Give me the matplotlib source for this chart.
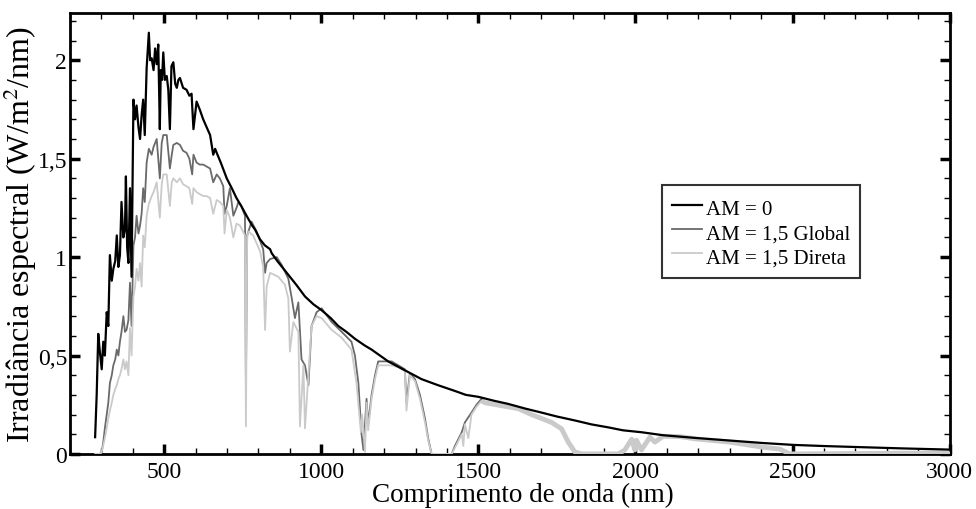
import numpy as np
import matplotlib
matplotlib.use("Agg")
import matplotlib.pyplot as plt
from matplotlib.ticker import MultipleLocator, FixedLocator

plt.rcParams['font.family'] = ['Liberation Serif', 'DejaVu Serif']
plt.rcParams['mathtext.fontset'] = 'stix'

# AM = 0 (extraterrestre)
wl_am0 = [280, 285, 290, 295, 301, 306, 311, 317, 322, 327, 333, 338, 344, 349, 354, 359, 364, 370,
          375, 378, 382, 386, 391, 396, 402, 407, 412, 418, 423, 428, 433, 438, 444, 451, 455, 460,
          466, 471, 476, 481, 486, 489, 493, 497, 502, 508, 513, 518, 523, 529, 535, 540, 545, 550,
          560, 571, 580, 587, 593, 603, 613, 624, 635, 646, 656, 662, 667, 680, 699, 715, 730, 745,
          762, 780, 789, 805, 820, 837, 842, 860, 880, 895, 920, 948, 975, 1001, 1030, 1054, 1080,
          1107, 1139, 1160, 1213, 1260, 1319, 1370, 1425, 1460, 1500, 1550, 1595, 1650, 1701, 1750,
          1807, 1860, 1913, 1960, 2020, 2088, 2200, 2300, 2400, 2500, 2600, 2725, 2850, 3000]
irr_am0 = [0.085, 0.30, 0.61, 0.52, 0.43, 0.57, 0.50, 0.72, 0.65, 1.01, 0.88, 0.94, 0.98, 1.11, 0.95,
           1.01, 1.28, 1.10, 1.14, 1.41, 1.05, 0.97, 1.35, 0.90, 1.80, 1.70, 1.77, 1.66, 1.60, 1.72,
           1.80, 1.62, 1.96, 2.14, 2.00, 2.01, 1.95, 2.06, 1.98, 2.08, 1.65, 1.95, 1.90, 2.04, 1.90,
           1.92, 1.85, 1.65, 1.97, 1.99, 1.88, 1.86, 1.90, 1.91, 1.86, 1.85, 1.82, 1.83, 1.65, 1.79,
           1.75, 1.70, 1.66, 1.62, 1.52, 1.55, 1.53, 1.48, 1.40, 1.35, 1.30, 1.26, 1.21, 1.16, 1.14,
           1.09, 1.06, 1.04, 1.02, 0.98, 0.94, 0.91, 0.86, 0.80, 0.76, 0.73, 0.69, 0.65, 0.62, 0.585,
           0.55, 0.53, 0.47, 0.43, 0.38, 0.35, 0.32, 0.30, 0.29, 0.27, 0.254, 0.23, 0.21, 0.19, 0.17,
           0.15, 0.135, 0.12, 0.11, 0.095, 0.08, 0.068, 0.056, 0.046, 0.040, 0.034, 0.028, 0.022]

# AM = 1,5 Global
wl_glob = [280, 295, 301, 306, 311, 317, 322, 327, 333, 338, 344, 349, 354, 359, 364, 370, 375, 380,
           386, 391, 396, 402, 407, 412, 418, 423, 428, 433, 438, 444, 451, 460, 466, 476, 486, 492,
           497, 508, 518, 524, 529, 540, 550, 560, 571, 580, 589, 593, 603, 613, 624, 635, 646, 656,
           667, 677, 688, 692, 699, 709, 720, 730, 736, 745, 757, 760, 764, 778, 794, 815, 821, 826,
           837, 858, 874, 895, 906, 916, 927, 937, 948, 959, 969, 985, 1001, 1033, 1065, 1096, 1107,
           1118, 1128, 1134, 1144, 1149, 1160, 1171, 1181, 1202, 1224, 1245, 1266, 1271, 1282, 1298,
           1314, 1330, 1340, 1351, 1415, 1425, 1447, 1457, 1478, 1494, 1510, 1521, 1574, 1627, 1669,
           1701, 1733, 1765, 1786, 1807, 1829, 1945, 1966, 1988, 1998, 2003, 2019, 2046, 2062, 2088,
           2141, 2194, 2300, 2406, 2459, 2491, 3000]
irr_glob = [0.0, 0.0, 0.01, 0.06, 0.13, 0.20, 0.26, 0.36, 0.40, 0.45, 0.48, 0.53, 0.50, 0.57, 0.62,
            0.70, 0.62, 0.63, 0.68, 0.87, 0.65, 1.06, 1.10, 1.21, 1.12, 1.16, 1.22, 1.35, 1.28, 1.48,
            1.55, 1.52, 1.56, 1.60, 1.40, 1.58, 1.62, 1.62, 1.45, 1.52, 1.57, 1.58, 1.57, 1.54, 1.53,
            1.50, 1.42, 1.52, 1.48, 1.47, 1.47, 1.46, 1.45, 1.38, 1.42, 1.40, 1.36, 1.22, 1.26, 1.35,
            1.21, 1.25, 1.28, 1.26, 1.21, 0.35, 1.11, 1.18, 1.13, 1.04, 0.92, 0.97, 0.99, 1.00, 0.96,
            0.89, 0.79, 0.69, 0.77, 0.48, 0.45, 0.35, 0.65, 0.72, 0.74, 0.67, 0.62, 0.57, 0.50, 0.36,
            0.10, 0.02, 0.28, 0.15, 0.30, 0.40, 0.47, 0.47, 0.47, 0.45, 0.43, 0.26, 0.41, 0.38, 0.30,
            0.18, 0.08, 0.0, 0.0, 0.04, 0.11, 0.16, 0.21, 0.25, 0.28, 0.26, 0.245, 0.23, 0.20, 0.18,
            0.16, 0.127, 0.06, 0.01, 0.0, 0.0, 0.02, 0.075, 0.02, 0.07, 0.02, 0.085, 0.06, 0.09, 0.088,
            0.076, 0.06, 0.034, 0.025, 0.0, 0.005]

# AM = 1,5 Direta
wl_dir = [280, 298, 304, 311, 317, 322, 327, 333, 338, 344, 349, 354, 359, 364, 370, 375, 380, 386,
          391, 396, 402, 407, 412, 418, 423, 428, 433, 438, 444, 451, 460, 466, 476, 486, 492, 497,
          508, 518, 524, 529, 540, 550, 560, 571, 580, 589, 593, 603, 613, 624, 635, 646, 656, 667,
          677, 688, 692, 699, 709, 720, 730, 741, 757, 760, 764, 768, 783, 805, 815, 821, 826, 837,
          863, 884, 895, 900, 911, 927, 932, 943, 948, 959, 969, 985, 1001, 1033, 1065, 1096, 1112,
          1126, 1130, 1139, 1144, 1149, 1160, 1171, 1181, 1202, 1224, 1245, 1266, 1271, 1282, 1298,
          1314, 1330, 1340, 1351, 1415, 1425, 1447, 1452, 1457, 1468, 1478, 1494, 1510, 1521, 1574,
          1627, 1669, 1701, 1733, 1765, 1786, 1807, 1829, 1945, 1966, 1988, 1998, 2003, 2019, 2046,
          2062, 2088, 2141, 2194, 2300, 2406, 2459, 2491, 3000]
irr_dir = [0.0, 0.0, 0.03, 0.08, 0.13, 0.18, 0.22, 0.26, 0.30, 0.33, 0.35, 0.38, 0.40, 0.43, 0.48,
           0.43, 0.47, 0.40, 0.64, 0.50, 0.80, 0.85, 0.94, 0.88, 0.97, 0.85, 1.11, 1.05, 1.21, 1.27,
           1.31, 1.33, 1.38, 1.20, 1.37, 1.42, 1.42, 1.26, 1.38, 1.40, 1.38, 1.40, 1.37, 1.36, 1.35,
           1.27, 1.35, 1.33, 1.32, 1.31, 1.31, 1.30, 1.22, 1.29, 1.28, 1.26, 1.12, 1.24, 1.20, 1.10,
           1.17, 1.16, 1.11, 0.14, 1.10, 1.13, 1.11, 1.03, 0.95, 0.63, 0.85, 0.92, 0.90, 0.86, 0.79,
           0.52, 0.67, 0.62, 0.14, 0.45, 0.13, 0.40, 0.65, 0.70, 0.69, 0.63, 0.59, 0.53, 0.36, 0.11,
           0.20, 0.01, 0.26, 0.12, 0.28, 0.38, 0.45, 0.45, 0.45, 0.44, 0.42, 0.22, 0.40, 0.37, 0.28,
           0.16, 0.07, 0.0, 0.0, 0.03, 0.10, 0.04, 0.15, 0.08, 0.20, 0.24, 0.27, 0.26, 0.245, 0.23,
           0.20, 0.18, 0.16, 0.127, 0.06, 0.01, 0.0, 0.0, 0.02, 0.075, 0.02, 0.07, 0.02, 0.085, 0.06,
           0.09, 0.088, 0.076, 0.06, 0.034, 0.025, 0.0, 0.005]

labels = ["AM = 0", "AM = 1,5 Global", "AM = 1,5 Direta"]
ytick_vals = [0, 0.5, 1, 1.5, 2]
ytick_labels = ["0", "0,5", "1", "1,5", "2"]
xtick_vals = [500, 1000, 1500, 2000, 2500, 3000]

fig = plt.figure(figsize=(9.76, 5.10), dpi=100)
ax = fig.add_axes([0.0717, 0.108, 0.9013, 0.8645])

wd = np.array(wl_dir)
idir = np.array(irr_dir)
tail = wd >= 1500

ax.plot(wl_glob, irr_glob, color="#6a6a6a", lw=1.3, label=labels[1], zorder=2)
ax.plot(wl_dir, irr_dir, color="#cacaca", lw=1.3, label=labels[2], zorder=3)
ax.plot(wd[tail], idir[tail], color="#cacaca", lw=3.5, zorder=3, solid_capstyle="butt")
ax.plot(wl_am0, irr_am0, color="black", lw=1.6, label=labels[0], zorder=4)

ax.set_xlim(200, 3000)
ax.set_ylim(0, 2.24)
ax.xaxis.set_major_locator(FixedLocator(xtick_vals))
ax.xaxis.set_minor_locator(MultipleLocator(100))
ax.set_yticks(ytick_vals)
ax.set_yticklabels(ytick_labels)
ax.yaxis.set_minor_locator(MultipleLocator(0.1))

for s in ax.spines.values():
    s.set_linewidth(2)
ax.tick_params(which="both", direction="in", top=True, right=True, labelsize=17)
ax.tick_params(which="major", length=7, width=2.5)
ax.tick_params(which="minor", length=4, width=1)
ax.tick_params(axis="y", pad=2)
ax.tick_params(axis="x", pad=5)

ax.set_xlabel("Comprimento de onda (nm)", fontsize=19.5, labelpad=0)
ax.xaxis.label.set_x(0.515)
ax.set_ylabel("Irradiância espectral (W/m$^2$/nm)", fontsize=23, labelpad=-1)

h, l = ax.get_legend_handles_labels()
order = [2, 0, 1]
leg = ax.legend([h[i] for i in order], [l[i] for i in order], loc="upper left",
                bbox_to_anchor=(0.673, 0.61), fontsize=15, frameon=True, fancybox=False,
                handlelength=1.4, handletextpad=0.2, handleheight=1.3, labelspacing=0.05,
                borderpad=0.5, borderaxespad=0)
leg.get_frame().set_edgecolor("black")
leg.get_frame().set_linewidth(1.5)

plt.savefig("out.png", dpi=100)
